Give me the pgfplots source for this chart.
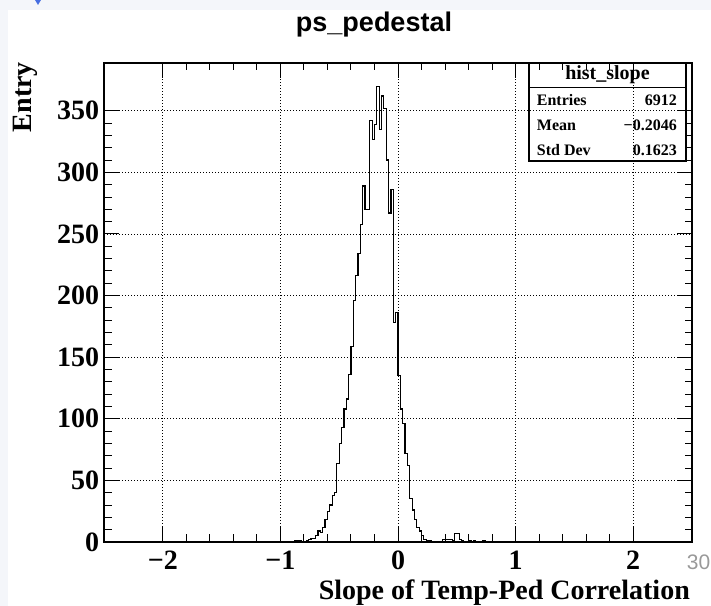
\documentclass[border=0pt]{standalone}
\usepackage{fontspec}
\setmainfont{Liberation Serif}
\newfontfamily\helv{Liberation Sans}
\usepackage{pgfplots}
\pgfplotsset{compat=1.18}
\definecolor{bgstrip}{RGB}{244,246,250}
\definecolor{arrowblue}{RGB}{70,110,225}
\begin{document}
\begin{tikzpicture}[x=1bp,y=1bp]
\useasboundingbox (-104,-64) rectangle (607,542);
\fill[bgstrip] (-104,-64) rectangle (-96,542);
\fill[bgstrip] (-104,532) rectangle (607,542);
\fill[arrowblue] (-69,542) -- (-63,542) -- (-66,537) -- cycle;
\begin{axis}[
 at={(0,0)}, anchor=south west, scale only axis, width=588bp, height=479bp,
 xmin=-2.5, xmax=2.5, ymin=0, ymax=388.8,
 xtick={-2,-1,0,1,2}, xticklabels={−2,−1,0,1,2},
 ytick={0,50,...,350}, yticklabels={0,50,100,150,200,250,300,350},
 minor x tick num=4, minor y tick num=4,
 xtick pos=both, ytick pos=both, xticklabel pos=lower, yticklabel pos=left,
 tick align=inside, major tick length=15bp, minor tick length=7.5bp,
 tick style={black, line width=1bp},
 axis line style={black, line width=1.3bp},
 grid=major, major grid style={black, line width=0.8bp, dash pattern=on 0.9bp off 2.1bp},
 ticklabel style={font=\bfseries\fontsize{28bp}{30bp}\selectfont, inner sep=0pt},
 xticklabel style={anchor=north, yshift=-9bp},
 yticklabel style={anchor=east, xshift=-4.7bp},
]
\addplot[const plot, black, line width=1.2bp] coordinates {
(-0.90,0) (-0.88,1) (-0.86,1) (-0.84,1) (-0.82,0) (-0.80,0) (-0.78,1) (-0.76,2)
(-0.74,3) (-0.72,3) (-0.70,5) (-0.68,9) (-0.66,8) (-0.64,12) (-0.62,18) (-0.60,25)
(-0.58,30) (-0.56,38) (-0.54,40) (-0.52,64) (-0.50,80) (-0.48,93) (-0.46,108) (-0.44,116)
(-0.42,136) (-0.40,159) (-0.38,196) (-0.36,216) (-0.34,234) (-0.32,258) (-0.30,289) (-0.28,270)
(-0.26,270) (-0.24,342) (-0.22,327) (-0.20,339) (-0.18,370) (-0.16,335) (-0.14,362) (-0.12,352)
(-0.10,310) (-0.08,267) (-0.06,286) (-0.04,178) (-0.02,186) (0.00,135) (0.02,108) (0.04,96)
(0.06,72) (0.08,62) (0.10,35) (0.12,26) (0.14,18) (0.16,12) (0.18,9) (0.20,5)
(0.22,2) (0.24,1) (0.26,1) (0.28,0) (0.30,0) (0.32,0) (0.34,0) (0.36,0)
(0.38,2) (0.40,2) (0.42,2) (0.44,2) (0.46,1) (0.48,7) (0.50,7) (0.52,2)
(0.54,1) (0.56,0) (0.58,0) (0.60,1) (0.62,0) (0.64,1) (0.66,0) (0.68,0)
(0.70,0) (0.72,1) (0.74,0) (0.76,0)
};
\end{axis}
\node[rotate=90, anchor=south east, inner sep=0pt, font=\bfseries\fontsize{28bp}{30bp}\selectfont] at (-66,480) {Entry};
\node[anchor=base east, inner sep=0pt, font=\bfseries\fontsize{28bp}{30bp}\selectfont] at (586,-58) {Slope of Temp-Ped Correlation};
\node[anchor=base, inner sep=0pt, font=\helv\bfseries\fontsize{27bp}{29bp}\selectfont] at (270,510) {ps\_pedestal};
\node[anchor=base east, inner sep=0pt, text=black!40, font=\helv\fontsize{21bp}{23bp}\selectfont] at (606.5,-28) {30};
% stats box
\draw[line width=1.2bp] (425,381) rectangle (582,479);
\draw[line width=1.2bp] (425,454.7) -- (582,454.7);
\node[inner sep=0pt, font=\bfseries\fontsize{20bp}{22bp}\selectfont] at (503.5,467) {hist\_slope};
\node[anchor=base west, inner sep=0pt, font=\bfseries\fontsize{16bp}{18bp}\selectfont] at (432.7,436) {Entries};
\node[anchor=base west, inner sep=0pt, font=\bfseries\fontsize{16bp}{18bp}\selectfont] at (432.7,411) {Mean};
\node[anchor=base west, inner sep=0pt, font=\bfseries\fontsize{16bp}{18bp}\selectfont] at (432.7,386.7) {Std Dev};
\node[anchor=base east, inner sep=0pt, font=\bfseries\fontsize{16bp}{18bp}\selectfont] at (573,436) {6912};
\node[anchor=base east, inner sep=0pt, font=\bfseries\fontsize{16bp}{18bp}\selectfont] at (573,411) {−0.2046};
\node[anchor=base east, inner sep=0pt, font=\bfseries\fontsize{16bp}{18bp}\selectfont] at (573,386.7) {0.1623};
\end{tikzpicture}
\end{document}
